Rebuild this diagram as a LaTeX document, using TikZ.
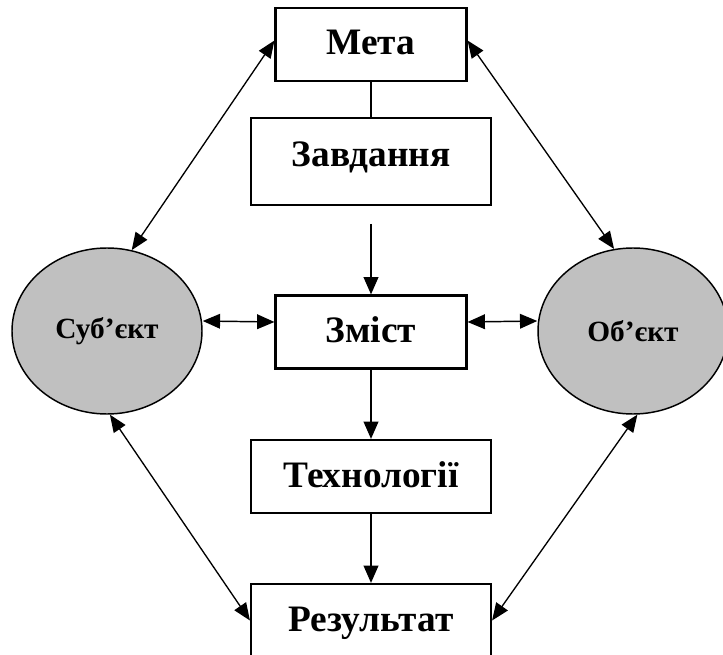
\documentclass[tikz,border=0pt]{standalone}
\usepackage{fontspec}
\setmainfont{Liberation Serif}
\usepackage{tikz}
\usetikzlibrary{arrows.meta,shapes.geometric}
\definecolor{EllipseGray}{HTML}{C0C0C0}

\begin{document}
\begin{tikzpicture}[x=0.75pt,y=-0.75pt,
    box/.style={draw,line width=1.6pt,inner sep=0pt,minimum height=54.75pt,
        font=\bfseries\fontsize{28}{30}\selectfont,text height=24pt,text depth=8.25pt},
    widebox/.style={box,minimum width=180pt},
    partner/.style={ellipse,draw,line width=1.1pt,fill=EllipseGray,inner sep=0pt,
        minimum width=142.5pt,minimum height=124.5pt,font=\bfseries\fontsize{22}{24}\selectfont},
    flow/.style={line width=1.4pt,-{Triangle[length=13pt,width=11pt]}},
    both/.style={line width=1.1pt,{Triangle[length=13pt,width=11pt]}-{Triangle[length=13pt,width=11pt]}},
    diag/.style={line width=1pt,{Triangle[length=13pt,width=10.5pt]}-{Triangle[length=13pt,width=10.5pt]}}]
    \useasboundingbox (0,0) rectangle (723,655);

    % centre column
    \node[box,minimum width=143.25pt] (meta) at (371,44.5) {Мета};
    \node[widebox,minimum height=65.25pt,text depth=15.75pt] (zavd) at (371,161.5) {Завдання};
    \node[box,minimum width=143.25pt] (zmist) at (371,332) {Зміст};
    \node[widebox] (tekh) at (371,476.5) {Технології};
    \node[widebox] (rez) at (371,620.5) {Результат};

    % sides
    \node[partner] (subj) at (107,331) {Суб’єкт};
    \node[partner] (obj) at (633,331) {Об’єкт};

    \coordinate (zfree) at (371,224);

    \draw[line width=1.4pt] (meta) -- (zavd);
    \draw[flow] (zfree) -- (zmist);
    \draw[flow] (zmist) -- (tekh);
    \draw[flow] (tekh) -- (rez);

    \draw[both] ([yshift=7.5pt]zmist.west) -- ([yshift=7.5pt]subj.east);
    \draw[both] ([yshift=7.5pt]zmist.east) -- ([yshift=7.5pt]obj.west);

    \draw[diag] ([yshift=3pt]meta.west) -- (subj.73);
    \draw[diag] ([yshift=3pt]meta.east) -- (obj.103);
    \draw[diag] (subj.-88) -- (rez.west);
    \draw[diag] (obj.-87) -- (rez.east);
\end{tikzpicture}
\end{document}
